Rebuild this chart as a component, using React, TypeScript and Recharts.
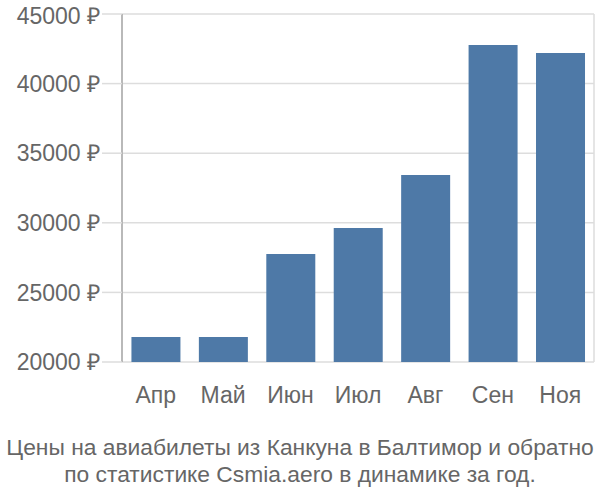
import { BarChart, Bar, XAxis, YAxis, CartesianGrid } from 'recharts';

const months = ['Апр', 'Май', 'Июн', 'Июл', 'Авг', 'Сен', 'Ноя'];
const prices = [21800, 21800, 27760, 29630, 33430, 42770, 42200];
const yTicks = [20000, 25000, 30000, 35000, 40000, 45000];
const bandEdges = [0, 1, 2, 3, 4, 5, 6, 7];
const titleLines = [
  'Цены на авиабилеты из Канкуна в Балтимор и обратно',
  'по статистике Csmia.aero в динамике за год.',
];

const data = months.map((m, i) => ({ month: m, price: prices[i], pos: i + 0.5 }));

const font = '"Liberation Sans", Arial, sans-serif';
const textColor = '#666';
const gridColor = '#dddddd';

export default function App() {
  return (
    <div style={{ position: 'absolute', left: 0, top: 0, width: 600, height: 500, background: '#fff', fontFamily: font }}>
      <BarChart
        width={600}
        height={420}
        data={data}
        margin={{ top: 14, right: 6, bottom: 0, left: 0 }}
        barCategoryGap="14%"
      >
        <CartesianGrid xAxisId="edges" stroke={gridColor} strokeWidth={1.5} />
        <XAxis
          xAxisId="edges"
          dataKey="pos"
          type="number"
          domain={[0, 7]}
          ticks={bandEdges}
          tick={false}
          tickSize={18}
          tickLine={{ stroke: gridColor, strokeWidth: 1.5 }}
          axisLine={false}
          height={0}
        />
        <XAxis
          dataKey="month"
          tickLine={false}
          axisLine={false}
          tickSize={18}
          tickMargin={7}
          height={58}
          tick={{ fill: textColor, fontSize: 23, fontFamily: font }}
        />
        <YAxis
          domain={[20000, 45000]}
          ticks={yTicks}
          width={122}
          tickSize={20}
          tickMargin={2}
          allowDataOverflow
          tickFormatter={(v: number) => `${v} ₽`}
          tick={{ fill: textColor, fontSize: 23, fontFamily: font }}
          tickLine={{ stroke: gridColor, strokeWidth: 1.5 }}
          axisLine={{ stroke: '#aaaaaa', strokeWidth: 1.5 }}
        />
        <Bar dataKey="price" fill="#4e79a7" isAnimationActive={false} />
      </BarChart>
      <div style={{ textAlign: 'center', color: textColor, fontSize: 22.8, lineHeight: '27px', marginTop: 14, whiteSpace: 'nowrap' }}>
        {titleLines.map((t) => (
          <div key={t}>{t}</div>
        ))}
      </div>
    </div>
  );
}
